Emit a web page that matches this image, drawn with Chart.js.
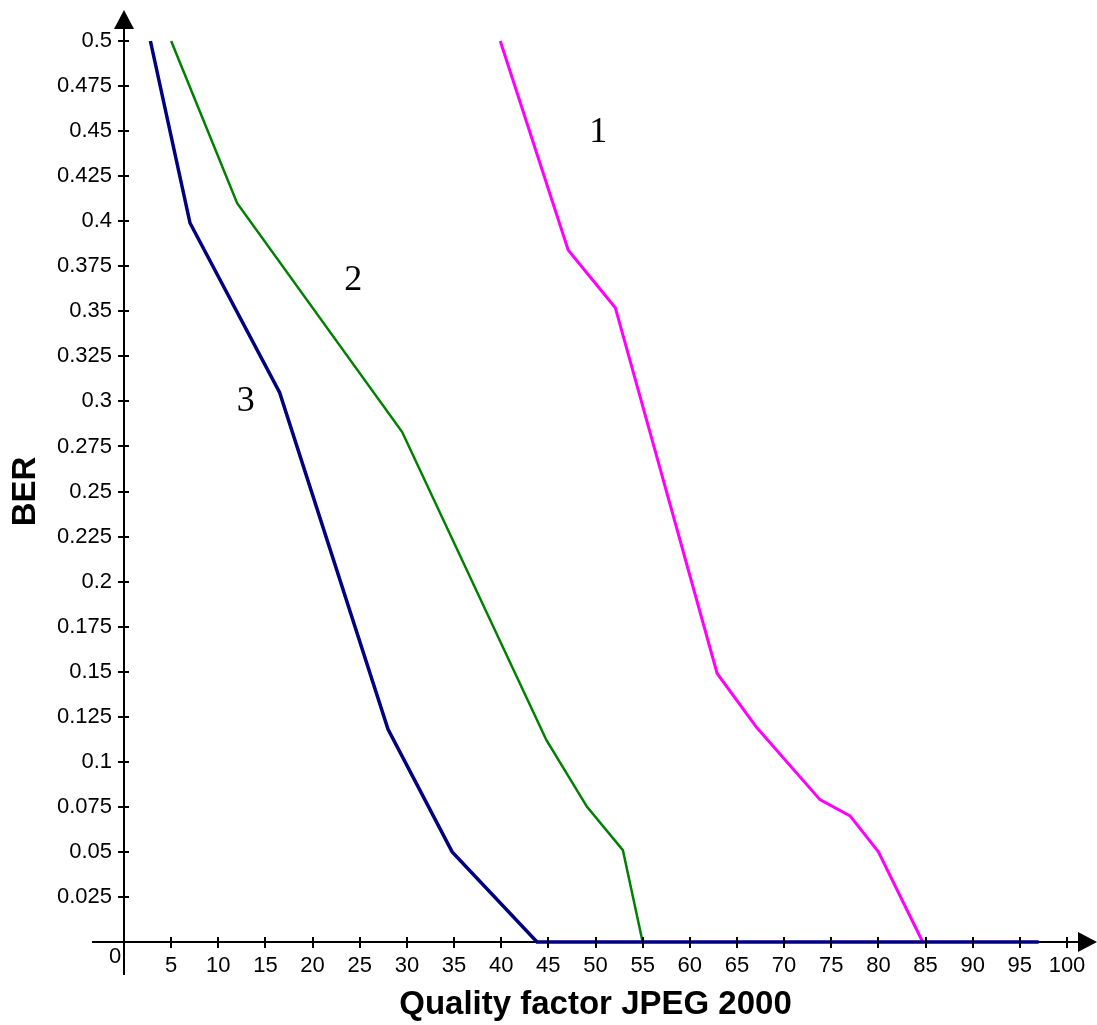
<!DOCTYPE html>
<html>
<head>
<meta charset="utf-8">
<script src="https://cdn.jsdelivr.net/npm/chart.js@4.4.1/dist/chart.umd.min.js"></script>
<style>
  html, body { margin: 0; padding: 0; background: #fff; }
  #wrap { width: 1097px; height: 1025px; position: relative; }
</style>
</head>
<body>
<div id="wrap"><canvas id="ber-chart"></canvas></div>
<script>
// Curve 1 (magenta)
const curve1Q = [39.9, 47.1, 52.1, 62.9, 67.1, 73.8, 77.0, 80.0, 84.7];
const curve1BER = [0.5, 0.384, 0.352, 0.149, 0.119, 0.079, 0.070, 0.050, 0];
// Curve 2 (green)
const curve2Q = [5.0, 12.0, 29.5, 44.8, 49.1, 52.9, 55.0];
const curve2BER = [0.5, 0.41, 0.283, 0.112, 0.075, 0.051, 0];
// Curve 3 (navy)
const curve3Q = [2.8, 7.0, 16.5, 28.0, 34.8, 43.8, 97.0];
const curve3BER = [0.5, 0.399, 0.305, 0.118, 0.050, 0, 0];

const xTickValues = [5, 10, 15, 20, 25, 30, 35, 40, 45, 50, 55, 60, 65, 70, 75, 80, 85, 90, 95, 100];
const yTickValues = [0.025, 0.05, 0.075, 0.1, 0.125, 0.15, 0.175, 0.2, 0.225, 0.25,
                     0.275, 0.3, 0.325, 0.35, 0.375, 0.4, 0.425, 0.45, 0.475, 0.5];

// curve numbers, placed in data coordinates
const curveNames = ['1', '2', '3'];
const curveNameQ = [50.3, 24.3, 12.9];
const curveNameBER = [0.449, 0.367, 0.300];

const toPoints = (xs, ys) => xs.map((v, i) => ({ x: v, y: ys[i] }));

// draws the arrowed axes, crossing ticks, origin "0" and curve numbers
const arrowAxes = {
    id: 'arrowAxes',
    beforeDatasetsDraw(chart) {
        const { ctx, chartArea, scales: { x, y } } = chart;
        const x0 = Math.round(x.getPixelForValue(0));
        const y0 = Math.round(y.getPixelForValue(0));
        ctx.save();
        ctx.strokeStyle = '#000';
        ctx.fillStyle = '#000';
        ctx.lineWidth = 2;

        ctx.beginPath();
        ctx.moveTo(x0, y0 + 33);
        ctx.lineTo(x0, chartArea.top - 14);
        ctx.moveTo(x0 - 32, y0);
        ctx.lineTo(chartArea.right + 13, y0);
        ctx.stroke();

        // arrow heads
        ctx.beginPath();
        ctx.moveTo(x0, chartArea.top - 31);
        ctx.lineTo(x0 - 10, chartArea.top - 12);
        ctx.lineTo(x0 + 10, chartArea.top - 12);
        ctx.closePath();
        ctx.fill();
        ctx.beginPath();
        ctx.moveTo(chartArea.right + 30, y0);
        ctx.lineTo(chartArea.right + 11, y0 - 10);
        ctx.lineTo(chartArea.right + 11, y0 + 10);
        ctx.closePath();
        ctx.fill();
        ctx.restore();
    },
    afterDatasetsDraw(chart) {
        const { ctx, scales: { x, y } } = chart;
        const x0 = Math.round(x.getPixelForValue(0));
        const y0 = Math.round(y.getPixelForValue(0));
        ctx.save();
        ctx.strokeStyle = '#000';
        ctx.lineWidth = 2;
        ctx.beginPath();
        x.ticks.forEach(t => {
            const px = Math.round(x.getPixelForValue(t.value));
            ctx.moveTo(px, y0 - 5);
            ctx.lineTo(px, y0 + 6);
        });
        y.ticks.forEach(t => {
            const py = Math.round(y.getPixelForValue(t.value));
            ctx.moveTo(x0 - 6, py);
            ctx.lineTo(x0 + 5, py);
        });
        ctx.stroke();

        ctx.fillStyle = '#000';
        ctx.font = '22px "Liberation Sans", Arial, sans-serif';
        ctx.textAlign = 'center';
        ctx.textBaseline = 'middle';
        ctx.fillText('0', x0 - 9, y0 + 15);

        ctx.font = '36px "Liberation Serif", "Times New Roman", serif';
        curveNames.forEach((name, i) => {
            ctx.fillText(name, x.getPixelForValue(curveNameQ[i]), y.getPixelForValue(curveNameBER[i]));
        });
        ctx.restore();
    }
};

const tickFont = { family: '"Liberation Sans", Arial, sans-serif', size: 22 };
const titleFont = { family: '"Liberation Sans", Arial, sans-serif', size: 33, weight: 'bold' };

new Chart(document.getElementById('ber-chart'), {
    type: 'line',
    data: {
        datasets: [
            {
                label: '3',
                data: toPoints(curve3Q, curve3BER),
                borderColor: '#000080',
                borderWidth: 3.5,
                pointRadius: 0,
                tension: 0,
                clip: false
            },
            {
                label: '2',
                data: toPoints(curve2Q, curve2BER),
                borderColor: '#008000',
                borderWidth: 2.5,
                pointRadius: 0,
                tension: 0,
                clip: false
            },
            {
                label: '1',
                data: toPoints(curve1Q, curve1BER),
                borderColor: '#ff00ff',
                borderWidth: 3,
                pointRadius: 0,
                tension: 0,
                clip: false
            }
        ]
    },
    options: {
        responsive: true,
        maintainAspectRatio: false,
        animation: false,
        devicePixelRatio: 1,
        layout: { padding: { top: 41, right: 30, left: 0, bottom: 0 } },
        plugins: {
            legend: { display: false },
            tooltip: { enabled: false }
        },
        scales: {
            x: {
                type: 'linear',
                min: 0,
                max: 100,
                afterBuildTicks: scale => { scale.ticks = xTickValues.map(v => ({ value: v })); },
                afterFit: scale => { scale.height = 83; },
                grid: { display: false, drawTicks: false },
                border: { display: false },
                ticks: {
                    color: '#000',
                    font: tickFont,
                    padding: 11,
                    maxRotation: 0,
                    autoSkip: false,
                    callback: v => String(v)
                },
                title: {
                    display: true,
                    text: 'Quality factor JPEG 2000',
                    color: '#000',
                    font: titleFont,
                    padding: { top: 0, bottom: 0 }
                }
            },
            y: {
                type: 'linear',
                min: 0,
                max: 0.5,
                afterBuildTicks: scale => { scale.ticks = yTickValues.map(v => ({ value: v })); },
                afterFit: scale => { scale.width = 124; },
                grid: { display: false, drawTicks: false },
                border: { display: false },
                ticks: {
                    color: '#000',
                    font: tickFont,
                    padding: 12,
                    autoSkip: false,
                    callback: v => String(v)
                },
                title: {
                    display: true,
                    text: 'BER',
                    color: '#000',
                    font: titleFont,
                    padding: { top: 6, bottom: 0 }
                }
            }
        }
    },
    plugins: [arrowAxes]
});
</script>
</body>
</html>
